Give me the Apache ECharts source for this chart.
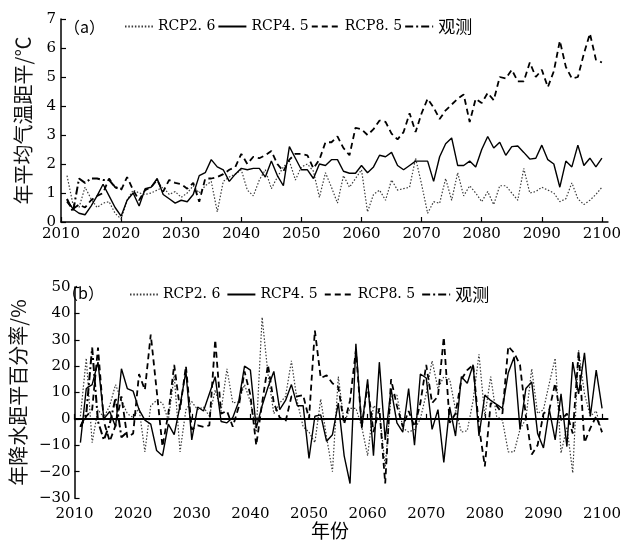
<!DOCTYPE html>
<html><head><meta charset="utf-8">
<script src="https://cdn.jsdelivr.net/npm/echarts@6/dist/echarts.min.js"></script>
<style>html,body{margin:0;padding:0;background:#fff}#c{width:624px;height:542px}</style>
</head><body><div id="c"></div>
<script>
// ---------- data ----------
const startYear = 2011;
const xTickLabels = [2010,2020,2030,2040,2050,2060,2070,2080,2090,2100];
const tempTicks = [0,1,2,3,4,5,6,7];
const precTicks = [-30,-20,-10,0,10,20,30,40,50];
const seriesNames = ['RCP2. 6','RCP4. 5','RCP8. 5','观测'];

// (a) annual mean temperature anomaly (°C), 2011-2100
const tempRcp26 = [1.6,0.6,0.5,1.2,0.8,0.5,0.65,0.7,0.3,0.1,
  0.75,1.1,1.0,0.95,1.0,1.1,1.2,0.95,1.05,0.85,
  1.0,1.25,1.0,1.25,1.4,0.35,1.4,1.55,1.65,1.8,
  1.1,0.9,1.45,1.8,1.15,1.55,1.9,2.1,1.45,1.9,
  2.0,1.75,0.85,1.7,1.2,0.65,1.6,1.2,1.5,1.8,
  0.35,0.95,1.1,0.75,1.45,1.1,1.15,1.2,2.2,1.3,
  0.3,0.7,0.65,1.5,0.75,1.7,0.9,1.25,1.0,0.7,
  1.05,0.6,1.25,1.25,1.0,0.75,1.85,1.0,1.05,1.2,
  1.1,1.0,0.7,0.8,1.35,0.8,0.6,0.75,0.95,1.2];
const tempRcp45 = [0.75,0.45,0.3,0.25,0.55,0.9,1.3,0.9,0.5,0.2,
  0.75,1.0,0.55,1.15,1.2,1.5,0.95,0.8,0.65,0.75,
  0.7,0.95,1.6,1.7,2.15,1.9,1.8,1.4,1.65,1.85,
  1.8,1.85,1.85,1.55,2.1,1.6,1.25,2.6,2.2,1.8,
  1.8,1.5,2.0,1.95,2.15,2.15,1.75,1.68,1.68,1.95,
  1.7,1.9,2.3,2.25,2.4,1.95,1.8,1.95,2.1,2.1,
  2.1,1.4,2.25,2.7,2.9,1.95,1.95,2.1,1.9,2.5,
  2.95,2.55,2.75,2.3,2.6,2.62,2.4,2.17,2.2,2.65,
  2.15,2.0,1.2,2.1,1.9,2.65,1.95,2.2,1.9,2.2];
const tempRcp85 = [0.7,0.45,0.6,0.5,0.75,0.9,1.0,1.5,1.2,1.1,
  1.55,1.1,0.75,1.1,1.2,1.45,1.05,1.45,1.35,1.3,
  1.15,1.35,0.7,1.5,1.5,1.55,1.65,1.8,1.9,2.35,
  2.0,2.25,2.2,2.3,2.45,2.0,1.75,2.15,2.35,2.35,
  2.3,1.85,2.15,2.75,2.75,2.95,2.55,2.3,3.25,3.2,
  3.0,3.2,3.5,3.45,3.05,2.85,3.1,3.75,3.1,3.75,
  4.25,3.95,3.55,3.85,4.05,4.25,4.4,3.45,4.25,4.1,
  4.45,4.2,5.0,4.95,5.25,4.85,4.85,5.5,5.0,5.25,
  4.65,5.2,6.25,5.35,4.95,5.0,5.8,6.5,5.6,5.5];
const tempObs = [0.8,0.35,1.5,1.35,1.5,1.5,1.45,1.45,1.2,1.15];

// (b) annual precipitation anomaly (%), 2011-2100
const precRcp26 = [1,23,-9,3.5,0.5,5,13,7,2,0.5,
  4,-12.5,5,7,6,-0.5,16.5,-12.5,3.5,6.5,
  3.5,4.5,1,11,3,19,6,6.5,13,6.5,
  -5,38.5,17,2,6,8.5,22,6.5,-3,-5,
  -9,7.5,-7,-20,16,-1.5,4,4,-3,-14,
  5,3,-18,8.5,9,-3.5,-5,-4,0,9.5,
  22,11.5,16,15,3.5,-5,-4.5,7,24.5,1,
  16,1,-0.5,-12.5,-12.5,-4,0,19,2,3.5,
  13.5,23,-13,-3,-20.5,26,9.5,1,3,-5.5];
const precRcp45 = [-9,11.5,13,21.5,0,2.8,-3,19,11.5,10.5,
  3.5,-0.5,-2,-12,-14,-2,-6,5,18,-8,
  4.5,3,9.5,16,-1,-1.5,0.5,6.5,20,18.5,
  -3.5,5,12,18,3.5,7,13,5,5,-15,
  1,1.5,-8.5,-6,6,-14,-24.5,28.5,-3.5,15,
  -14,21.5,-8,11.5,-1.5,-5,11.5,-10,17,15.5,
  -4,3.5,-16.5,4.5,-6.5,16,13.5,20.5,-6.5,9,
  7,5.5,4,17.5,23.5,-4,11.5,14,-5.5,-11,
  3.5,-8,9.5,-10.5,21.5,9.5,25,1,18.5,4];
const precRcp85 = [-3,1,3.5,27,-1,-8.5,-2.5,8.5,-7,-5.5,
  17,11,32,11,-10.5,2,20.5,3.5,20,-4,
  -2.5,-3,-2.5,30,2,3,-3,4.5,18,9,
  -10,6,20.5,6,0.5,-1,8.5,8.5,9,0,
  33.5,15.5,16.5,13.5,12,-2,7,26,-3,13,
  -5,4,-24.5,15,5,-3,3,-3,6,20.5,
  6,8.5,31,-1.5,2,15,18.5,20.5,-3,-18,
  6,5,2,27.5,25,20.5,1,-13.5,-10,2,
  3.5,13.5,-0.5,2,-5.5,25.5,-9,-3.5,1,-5];
const precObs = [-3,2,27,-1,-8,-2,8,-7,-5];

// ---------- chart ----------
const toPairs = arr => arr.map((v, i) => [startYear + i, v]);
const FONT_NUM = 'DejaVu Serif';
const FONT_CJK = 'Noto Sans CJK SC';
const styles = [
  {color:'#3a3a3a', width:1.2, type:[1.5,1.8]},
  {color:'#000', width:1.4, type:'solid'},
  {color:'#000', width:1.8, type:[6,4]},
  {color:'#000', width:2, type:[8,3,2,3]}
];
function mk(i, data, gi, extra) {
  return Object.assign({
    name: seriesNames[i], type:'line', xAxisIndex:gi, yAxisIndex:gi,
    data: toPairs(data), symbol:'none', showSymbol:false, silent:true,
    lineStyle: styles[i], itemStyle:{color: styles[i].color}, z: 3 - (i===0?1:0)
  }, extra || {});
}
const xAxisCommon = {
  type:'value', min:2010, max:2101, interval:10,
  axisLine:{show:true, lineStyle:{color:'#000', width:1.5}},
  axisTick:{show:true, inside:true, length:5, lineStyle:{color:'#000', width:1.2}},
  axisLabel:{show:true, showMaxLabel:false, color:'#000', fontFamily:FONT_NUM, fontSize:15,
    formatter: v => (xTickLabels.indexOf(v) >= 0 ? String(v) : '')},
  splitLine:{show:false}
};
const yAxisCommon = {
  type:'value', nameLocation:'middle', nameRotate:90,
  nameTextStyle:{color:'#111', fontFamily:FONT_CJK, fontSize:20},
  axisLine:{show:true, lineStyle:{color:'#000', width:1.5}},
  axisTick:{show:true, inside:true, length:5, lineStyle:{color:'#000', width:1.2}},
  splitLine:{show:false}
};
const legendCommon = {
  orient:'horizontal', itemWidth:28, itemHeight:12, selectedMode:false, padding:0,
  itemStyle:{opacity:0},
  textStyle:{color:'#000', fontFamily:FONT_NUM, fontSize:14, padding:[0,0,0,0]}
};
const chart = echarts.init(document.getElementById('c'), null, {renderer:'canvas'});
chart.setOption({
  animation:false,
  backgroundColor:'#fff',
  grid:[
    {left:61, right:16, top:19, height:203},
    {left:61, right:12, top:287, height:211}
  ],
  xAxis:[
    Object.assign({}, xAxisCommon, {gridIndex:0, axisLabel:Object.assign({}, xAxisCommon.axisLabel, {margin:5})}),
    Object.assign({}, xAxisCommon, {gridIndex:1, axisLabel:Object.assign({}, xAxisCommon.axisLabel, {margin:9})})
  ],
  yAxis:[
    Object.assign({}, yAxisCommon, {gridIndex:0, min:0, max:7, interval:1, name:'年平均气温距平/℃', nameGap:28,
      axisLabel:{color:'#000', fontFamily:FONT_NUM, fontSize:15, margin:5,
        formatter: v => (tempTicks.indexOf(v) >= 0 ? String(v) : '')}}),
    Object.assign({}, yAxisCommon, {gridIndex:1, min:-30, max:50, interval:10, name:'年降水距平百分率/%', nameGap:28,
      axisLabel:{color:'#000', fontFamily:FONT_NUM, fontSize:15, margin:4,
        formatter: v => (precTicks.indexOf(v) >= 0 ? (v < 0 ? '−' + Math.abs(v) : String(v)) : '')}})
  ],
  legend:[
    Object.assign({}, legendCommon, {left:124, top:18, itemGap:2,
      data:[seriesNames[0], seriesNames[1], seriesNames[2], {name:seriesNames[3], textStyle:{fontFamily:FONT_CJK, fontSize:17}}]}),
    Object.assign({}, legendCommon, {left:129, top:286, itemGap:6,
      data:[seriesNames[0], seriesNames[1], seriesNames[2], {name:seriesNames[3], textStyle:{fontFamily:FONT_CJK, fontSize:17}}]})
  ],
  graphic:[
    {type:'text', left:64, top:19, style:{text:'（a）', font:'16px "Noto Sans CJK SC"', fill:'#000'}},
    {type:'text', left:62, top:285, style:{text:'（b）', font:'16px "Noto Sans CJK SC"', fill:'#000'}},
    {type:'text', left:311, top:521, style:{text:'年份', font:'19px "Noto Sans CJK SC"', fill:'#000'}}
  ],
  series:[
    mk(0, tempRcp26, 0), mk(1, tempRcp45, 0), mk(2, tempRcp85, 0), mk(3, tempObs, 0),
    mk(0, precRcp26, 1), mk(1, precRcp45, 1, {
      markLine:{silent:true, symbol:'none', label:{show:false},
        lineStyle:{color:'#000', width:2.2, type:'solid'}, data:[{yAxis:0}]}
    }), mk(2, precRcp85, 1), mk(3, precObs, 1)
  ]
});
</script></body></html>
